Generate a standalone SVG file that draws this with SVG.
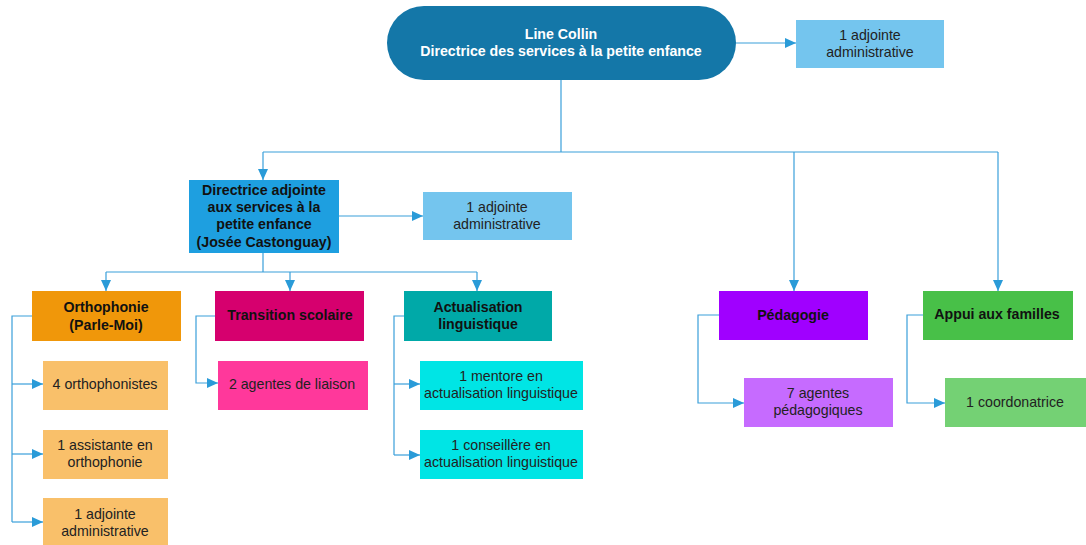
<svg xmlns="http://www.w3.org/2000/svg" width="1086" height="545" viewBox="0 0 1086 545">
<defs>
<marker id="arr" markerUnits="userSpaceOnUse" markerWidth="11" markerHeight="11" refX="11" refY="5.5" orient="auto">
<path d="M0,0.5 L11,5.5 L0,10.5 z" fill="#2A9BD8"/>
</marker>
<style>
.t{font-family:"Liberation Sans",Arial,sans-serif;font-size:14.2px;fill:#222;text-anchor:middle;dominant-baseline:central}
.b{font-weight:bold;fill:#111}
.w{fill:#fff;font-weight:bold}
.c{fill:none;stroke:#3A9FDA;stroke-width:1.2}
.a{marker-end:url(#arr)}
</style>
</defs>
<rect width="1086" height="545" fill="#fff"/>
<g id="connectors">
<path class="c a" d="M736,43 H796"/>
<path class="c" d="M561,80 V152"/>
<path class="c" d="M263,152 H998"/>
<path class="c a" d="M263,152 V180"/>
<path class="c a" d="M794,152 V291"/>
<path class="c a" d="M998,152 V291"/>
<path class="c a" d="M339,216 H423"/>
<path class="c" d="M263,253 V272 M106,272 H477"/>
<path class="c a" d="M106,272 V291"/>
<path class="c a" d="M290,272 V291"/>
<path class="c a" d="M477,272 V291"/>
<path class="c" d="M32,316 H12 V522"/>
<path class="c a" d="M12,384 H43"/>
<path class="c a" d="M12,454 H43"/>
<path class="c a" d="M12,522 H43"/>
<path class="c a" d="M215,316 H196 V383 H218"/>
<path class="c" d="M404,316 H394 V455"/>
<path class="c a" d="M394,384 H420"/>
<path class="c a" d="M394,455 H420"/>
<path class="c a" d="M719,315 H698 V403 H744"/>
<path class="c a" d="M923,315 H907 V403 H945"/>
</g>
<g id="n-top">
<rect x="387" y="6" width="349" height="74" rx="37" fill="#1477A8"/>
<text class="t w" x="561" y="34">Line Collin</text>
<text class="t w" x="561" y="51">Directrice des services à la petite enfance</text>
</g>
<g id="n-adj1">
<rect x="796" y="20" width="148" height="48" fill="#74C5EE"/>
<text class="t" x="870" y="35">1 adjointe</text>
<text class="t" x="870" y="52">administrative</text>
</g>
<g id="n-dir-adj">
<rect x="189" y="180" width="150" height="73" fill="#1E9FE0"/>
<text class="t b" x="264" y="190">Directrice adjointe</text>
<text class="t b" x="264" y="207">aux services à la</text>
<text class="t b" x="264" y="224">petite enfance</text>
<text class="t b" x="264" y="242">(Josée Castonguay)</text>
</g>
<g id="n-adj2">
<rect x="423" y="192" width="149" height="48" fill="#74C5EE"/>
<text class="t" x="497" y="207">1 adjointe</text>
<text class="t" x="497" y="224">administrative</text>
</g>
<g id="n-ortho">
<rect x="32" y="291" width="149" height="50" fill="#F0970A"/>
<text class="t b" x="106" y="307">Orthophonie</text>
<text class="t b" x="106" y="325">(Parle-Moi)</text>
</g>
<g id="n-trans">
<rect x="215" y="291" width="149" height="50" fill="#D6006E"/>
<text class="t b" x="290" y="315">Transition scolaire</text>
</g>
<g id="n-actu">
<rect x="404" y="291" width="148" height="50" fill="#00A9A8"/>
<text class="t b" x="478" y="307">Actualisation</text>
<text class="t b" x="478" y="324">linguistique</text>
</g>
<g id="n-ortho1">
<rect x="43" y="361" width="125" height="49" fill="#F9C06A"/>
<text class="t" x="105" y="384">4 orthophonistes</text>
</g>
<g id="n-ortho2">
<rect x="43" y="430" width="125" height="49" fill="#F9C06A"/>
<text class="t" x="105" y="445">1 assistante en</text>
<text class="t" x="105" y="462">orthophonie</text>
</g>
<g id="n-ortho3">
<rect x="43" y="498" width="125" height="47" fill="#F9C06A"/>
<text class="t" x="105" y="514">1 adjointe</text>
<text class="t" x="105" y="531">administrative</text>
</g>
<g id="n-liaison">
<rect x="218" y="361" width="150" height="49" fill="#FF389B"/>
<text class="t" x="292" y="384">2 agentes de liaison</text>
</g>
<g id="n-mentore">
<rect x="420" y="361" width="163" height="49" fill="#00E5E5"/>
<text class="t" x="501" y="376">1 mentore en</text>
<text class="t" x="501" y="393">actualisation linguistique</text>
</g>
<g id="n-conseil">
<rect x="420" y="430" width="163" height="49" fill="#00E5E5"/>
<text class="t" x="501" y="445">1 conseillère en</text>
<text class="t" x="501" y="462">actualisation linguistique</text>
</g>
<g id="n-peda">
<rect x="719" y="291" width="149" height="49" fill="#A000FF"/>
<text class="t b" x="793" y="315">Pédagogie</text>
</g>
<g id="n-peda1">
<rect x="744" y="378" width="149" height="49" fill="#C66BFF"/>
<text class="t" x="818" y="393">7 agentes</text>
<text class="t" x="818" y="410">pédagogiques</text>
</g>
<g id="n-appui">
<rect x="923" y="291" width="150" height="49" fill="#48C048"/>
<text class="t b" x="997" y="314">Appui aux familles</text>
</g>
<g id="n-appui1">
<rect x="945" y="378" width="141" height="49" fill="#74D174"/>
<text class="t" x="1015" y="402">1 coordonatrice</text>
</g>
</svg>
